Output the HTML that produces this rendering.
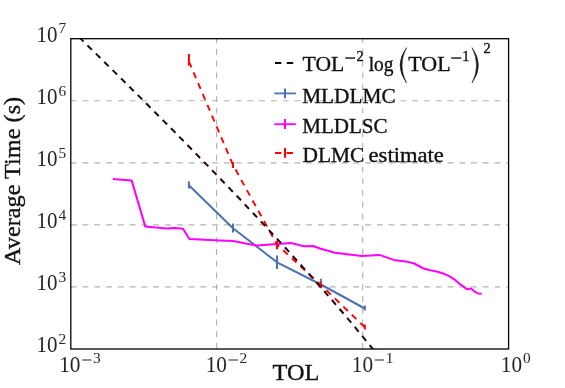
<!DOCTYPE html>
<html><head><meta charset="utf-8">
<style>
html,body{margin:0;padding:0;background:#fff;}
body{width:565px;height:388px;overflow:hidden;}
svg{display:block;will-change:transform;}
text{font-family:"Liberation Serif",serif;fill:#262626;}
</style></head><body>
<svg width="565" height="388" viewBox="0 0 565 388">
<rect width="565" height="388" fill="#fff"/>
<defs><clipPath id="c"><rect x="70.8" y="38.7" width="437.8" height="310.3"/></clipPath></defs>
<g stroke="#b4b4b4" stroke-width="1.15" stroke-dasharray="5.9 5.87" fill="none">
<line x1="70.8" y1="100.7" x2="508.6" y2="100.7"/><line x1="70.8" y1="162.8" x2="508.6" y2="162.8"/><line x1="70.8" y1="224.8" x2="508.6" y2="224.8"/><line x1="70.8" y1="286.9" x2="508.6" y2="286.9"/><line x1="216.6" y1="349.0" x2="216.6" y2="38.7"/><line x1="362.7" y1="349.0" x2="362.7" y2="38.7"/>
</g>
<g clip-path="url(#c)" fill="none">
<line x1="188.9" y1="181.3" x2="188.9" y2="188.6" stroke="#4c72b0" stroke-width="2.0"/><line x1="233.0" y1="223.4" x2="233.0" y2="232.6" stroke="#4c72b0" stroke-width="2.0"/><line x1="277.0" y1="255.5" x2="277.0" y2="269.0" stroke="#4c72b0" stroke-width="2.0"/><line x1="320.9" y1="278.8" x2="320.9" y2="288.2" stroke="#4c72b0" stroke-width="2.0"/><line x1="364.8" y1="305.5" x2="364.8" y2="310.6" stroke="#4c72b0" stroke-width="2.0"/>
<line x1="188.9" y1="54.1" x2="188.9" y2="65.6" stroke="#ff0000" stroke-width="2.0"/><line x1="233.0" y1="162.0" x2="233.0" y2="168.0" stroke="#ff0000" stroke-width="2.0"/><line x1="277.0" y1="240.5" x2="277.0" y2="249.3" stroke="#ff0000" stroke-width="2.0"/><line x1="320.9" y1="281.9" x2="320.9" y2="288.1" stroke="#ff0000" stroke-width="2.0"/><line x1="364.8" y1="324.6" x2="364.8" y2="329.4" stroke="#ff0000" stroke-width="2.0"/>
<path d="M188.9,185.3 L233.0,228.2 L277.0,262.3 L320.9,284.5 L364.8,308.5" stroke="#4c72b0" stroke-width="2.0" stroke-linejoin="round"/>
<path d="M112.8,178.9 L131.7,180.6 L145.3,226.6 L166.7,228.5 L174.9,227.9 L183.0,228.7 L189.4,239.0 L219.8,240.5 L233.2,241.0 L256.7,245.6 L291.0,243.0 L303.8,246.3 L313.0,246.0 L320.0,248.5 L335.0,252.8 L361.7,256.0 L379.5,254.9 L393.8,259.9 L405.6,261.4 L414.3,263.5 L423.5,268.5 L430.3,270.2 L437.4,271.7 L444.2,273.8 L449.6,276.4 L453.9,279.1 L459.2,283.6 L463.5,286.6 L466.9,289.2 L471.0,288.6 L474.2,291.3 L478.0,293.5 L481.7,293.7" stroke="#ff00ff" stroke-width="2.0" stroke-linejoin="round"/>
<path d="M188.9,61.5 L233.0,165.0 L277.0,244.6 L320.9,285.0 L364.8,327.3" stroke="#ff0000" stroke-width="1.9" stroke-dasharray="6.3 5.47"/>
<path d="M70.6,28.9 L72.8,31.1 L75.0,33.2 L77.2,35.3 L79.4,37.5 L81.6,39.6 L83.7,41.7 L85.9,43.9 L88.1,46.0 L90.3,48.2 L92.5,50.3 L94.7,52.5 L96.9,54.6 L99.1,56.8 L101.3,58.9 L103.5,61.1 L105.6,63.2 L107.8,65.4 L110.0,67.5 L112.2,69.7 L114.4,71.9 L116.6,74.0 L118.8,76.2 L121.0,78.4 L123.2,80.5 L125.4,82.7 L127.6,84.9 L129.7,87.0 L131.9,89.2 L134.1,91.4 L136.3,93.6 L138.5,95.7 L140.7,97.9 L142.9,100.1 L145.1,102.3 L147.3,104.5 L149.5,106.7 L151.6,108.9 L153.8,111.1 L156.0,113.3 L158.2,115.5 L160.4,117.7 L162.6,119.9 L164.8,122.1 L167.0,124.3 L169.2,126.5 L171.4,128.7 L173.6,130.9 L175.7,133.1 L177.9,135.3 L180.1,137.6 L182.3,139.8 L184.5,142.0 L186.7,144.2 L188.9,146.5 L191.1,148.7 L193.3,150.9 L195.5,153.2 L197.6,155.4 L199.8,157.7 L202.0,159.9 L204.2,162.2 L206.4,164.4 L208.6,166.7 L210.8,168.9 L213.0,171.2 L215.2,173.4 L217.4,175.7 L219.6,178.0 L221.7,180.2 L223.9,182.5 L226.1,184.8 L228.3,187.1 L230.5,189.4 L232.7,191.7 L234.9,194.0 L237.1,196.2 L239.3,198.5 L241.5,200.8 L243.6,203.2 L245.8,205.5 L248.0,207.8 L250.2,210.1 L252.4,212.4 L254.6,214.7 L256.8,217.1 L259.0,219.4 L261.2,221.7 L263.4,224.1 L265.6,226.4 L267.7,228.8 L269.9,231.1 L272.1,233.5 L274.3,235.9 L276.5,238.2 L278.7,240.6 L280.9,243.0 L283.1,245.4 L285.3,247.8 L287.5,250.1 L289.6,252.5 L291.8,254.9 L294.0,257.4 L296.2,259.8 L298.4,262.2 L300.6,264.6 L302.8,267.1 L305.0,269.5 L307.2,271.9 L309.4,274.4 L311.5,276.8 L313.7,279.3 L315.9,281.8 L318.1,284.3 L320.3,286.8 L322.5,289.2 L324.7,291.7 L326.9,294.3 L329.1,296.8 L331.3,299.3 L333.5,301.8 L335.6,304.4 L337.8,306.9 L340.0,309.5 L342.2,312.0 L344.4,314.6 L346.6,317.2 L348.8,319.8 L351.0,322.4 L353.2,325.0 L355.4,327.6 L357.5,330.3 L359.7,332.9 L361.9,335.6 L364.1,338.3 L366.3,341.0 L368.5,343.7 L370.7,346.4 L372.9,349.1 L375.1,351.8 L377.3,354.6 L379.5,357.4 L381.6,360.1 L383.8,362.9 L386.0,365.8 L388.2,368.6 L390.4,371.4 L392.6,374.3 L394.8,377.2 L397.0,380.1 L399.2,383.0 L401.4,386.0 L403.5,389.0 L405.7,392.0 L407.9,395.0 L410.1,398.0 L412.3,401.1 L414.5,404.2 L416.7,407.3 L418.9,410.5 L421.1,413.7 L423.3,416.9" stroke="#22060c" stroke-width="2.0" stroke-dasharray="6.3 5.47"/>
</g>
<g stroke="#000" stroke-width="1.3" fill="none">
<rect x="70.8" y="38.7" width="437.8" height="310.3"/>
</g>
<g>
<text x="36.5" y="42.0" font-size="22.3" textLength="21.0" lengthAdjust="spacingAndGlyphs">10</text><text x="58.5" y="33.4" font-size="15.4">7</text><text x="36.5" y="104.1" font-size="22.3" textLength="21.0" lengthAdjust="spacingAndGlyphs">10</text><text x="58.5" y="95.5" font-size="15.4">6</text><text x="36.5" y="166.2" font-size="22.3" textLength="21.0" lengthAdjust="spacingAndGlyphs">10</text><text x="58.5" y="157.6" font-size="15.4">5</text><text x="36.5" y="228.2" font-size="22.3" textLength="21.0" lengthAdjust="spacingAndGlyphs">10</text><text x="58.5" y="219.6" font-size="15.4">4</text><text x="36.5" y="290.3" font-size="22.3" textLength="21.0" lengthAdjust="spacingAndGlyphs">10</text><text x="58.5" y="281.7" font-size="15.4">3</text><text x="36.5" y="352.4" font-size="22.3" textLength="21.0" lengthAdjust="spacingAndGlyphs">10</text><text x="58.5" y="343.8" font-size="15.4">2</text>
<text x="59.2" y="372.0" font-size="22.3" textLength="21.3" lengthAdjust="spacingAndGlyphs">10</text><rect x="82.1" y="359.5" width="9.4" height="1.0" fill="#262626"/><text x="93.1" y="363.4" font-size="15.4">3</text><text x="205.7" y="372.0" font-size="22.3" textLength="21.3" lengthAdjust="spacingAndGlyphs">10</text><rect x="228.6" y="359.5" width="9.4" height="1.0" fill="#262626"/><text x="239.6" y="363.4" font-size="15.4">2</text><text x="351.8" y="372.0" font-size="22.3" textLength="21.3" lengthAdjust="spacingAndGlyphs">10</text><rect x="374.7" y="359.5" width="9.4" height="1.0" fill="#262626"/><text x="385.7" y="363.4" font-size="15.4">1</text><text x="500.8" y="372.0" font-size="22.3" textLength="21.3" lengthAdjust="spacingAndGlyphs">10</text><text x="523.1" y="363.4" font-size="15.4">0</text>
</g>
<!-- axis labels -->
<text x="272.6" y="379.8" font-size="23.4" textLength="46.8" lengthAdjust="spacingAndGlyphs" style="fill:#111" stroke="#111" stroke-width="0.35">TOL</text>
<text transform="translate(20.0,265.0) rotate(-90)" font-size="23.2" textLength="168.2" lengthAdjust="spacingAndGlyphs" style="fill:#111" stroke="#111" stroke-width="0.35">Average Time (s)</text>
<!-- legend -->
<g fill="none">
<line x1="275.0" y1="63.0" x2="293.2" y2="63.0" stroke="#0c0204" stroke-width="1.9" stroke-dasharray="6.35 5.5"/>
<line x1="274.3" y1="93.4" x2="295.9" y2="93.4" stroke="#4c72b0" stroke-width="1.8"/>
<line x1="285.0" y1="88.4" x2="285.0" y2="98.2" stroke="#4c72b0" stroke-width="2"/>
<line x1="274.3" y1="124.2" x2="295.9" y2="124.2" stroke="#ff00ff" stroke-width="1.8"/>
<line x1="285.0" y1="119.1" x2="285.0" y2="129.1" stroke="#ff00ff" stroke-width="2"/>
<line x1="275.0" y1="153.0" x2="293.2" y2="153.0" stroke="#ff0000" stroke-width="1.9" stroke-dasharray="6.35 5.3"/>
<line x1="285.0" y1="148.0" x2="285.0" y2="157.8" stroke="#ff0000" stroke-width="2"/>
</g>
<g style="fill:#111" stroke="#111" stroke-width="0.35">
<text x="302.6" y="70.8" font-size="21" textLength="41.6" lengthAdjust="spacingAndGlyphs" style="fill:#111">TOL</text>
<rect x="345.6" y="57.6" width="9.3" height="1.0" fill="#111"/>
<text x="356.4" y="61.3" font-size="14.4" style="fill:#111">2</text>
<text x="368.7" y="70.6" font-size="20.4" textLength="24.8" lengthAdjust="spacingAndGlyphs" style="fill:#111">log</text>
<path d="M406.5,47.6 Q393.7,65.3 406.5,83 Q397.5,65.3 406.5,47.6 Z" fill="#111" stroke="#111" stroke-width="0.5"/>
<text x="408.2" y="70.8" font-size="21" textLength="42.4" lengthAdjust="spacingAndGlyphs" style="fill:#111">TOL</text>
<rect x="451.8" y="57.6" width="9.3" height="1.0" fill="#111"/>
<text x="462.2" y="61.2" font-size="14.4" style="fill:#111">1</text>
<path d="M472.0,47.6 Q484.8,65.3 472.0,83 Q481.0,65.3 472.0,47.6 Z" fill="#111" stroke="#111" stroke-width="0.5"/>
<text x="483.4" y="53.3" font-size="14.4" style="fill:#111">2</text>
<text x="302.2" y="102.9" font-size="21" textLength="93.4" lengthAdjust="spacingAndGlyphs" style="fill:#111">MLDLMC</text>
<text x="302.2" y="132.6" font-size="21" textLength="85.4" lengthAdjust="spacingAndGlyphs" style="fill:#111">MLDLSC</text>
<text x="302.5" y="162.0" font-size="21" textLength="61.8" lengthAdjust="spacingAndGlyphs" style="fill:#111">DLMC</text><text x="368.6" y="162.0" font-size="21" textLength="75.2" lengthAdjust="spacingAndGlyphs" style="fill:#111">estimate</text>
</g>
</svg>
</body></html>
